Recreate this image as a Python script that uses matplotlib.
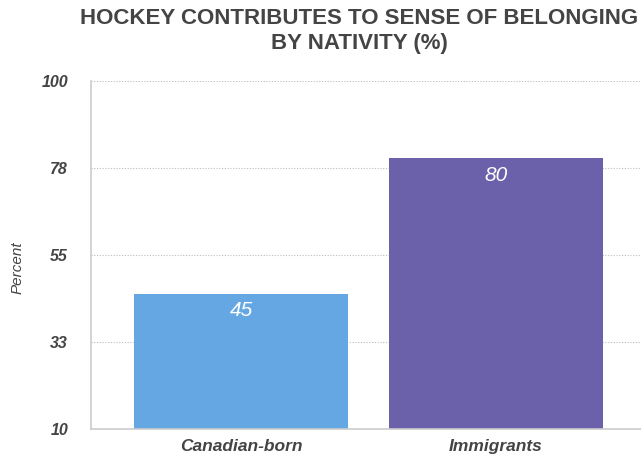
import matplotlib.pyplot as plt

# chart data
categories = ['Canadian-born', 'Immigrants']
values = [45, 80]
bar_colors = ['#64a7e3', '#6b60aa']
tick_values = [10, 32.5, 55, 77.5, 100]
tick_labels = ['10', '33', '55', '78', '100']

plt.rcParams['font.family'] = ['Liberation Sans', 'DejaVu Sans']

fig = plt.figure(figsize=(6.41, 4.58), dpi=100)
ax = fig.add_axes([91 / 641, 29 / 458, 550 / 641, 348 / 458])

x = list(range(len(categories)))
ax.bar(x, values, width=0.84, bottom=0, color=bar_colors, zorder=2)

for xi, v in zip(x, values):
    ax.text(xi, v - 2.0, str(v), ha='center', va='top', color='white',
            fontsize=15, fontstyle='italic', zorder=3)

ax.set_ylim(10, 100)
ax.set_xlim(-0.59, 1.57)
ax.set_yticks(tick_values)
ax.set_yticklabels(tick_labels, fontsize=11.5, fontstyle='italic',
                   fontweight='bold', color='#444444')
ax.set_xticks(x)
ax.set_xticklabels(categories, fontsize=12.5, fontstyle='italic',
                   fontweight='bold', color='#444444')
ax.tick_params(axis='both', length=0)
ax.tick_params(axis='y', pad=16.5)
ax.tick_params(axis='x', pad=7)

ax.grid(axis='y', linestyle=(0, (1, 1.5)), color='#bbbbbb', linewidth=0.8, zorder=0)
for s in ['top', 'right']:
    ax.spines[s].set_visible(False)
ax.spines['left'].set_color('#cccccc')
ax.spines['bottom'].set_color('#cccccc')
ax.spines['left'].set_linewidth(1.2)
ax.spines['bottom'].set_linewidth(1.2)

fig.text(18 / 641, 1 - 268 / 458, 'Percent', rotation=90, ha='center', va='center',
         fontsize=11, fontstyle='italic', color='#444444')

fig.text(359 / 641, 1 - 8 / 458, 'HOCKEY CONTRIBUTES TO SENSE OF BELONGING\nBY NATIVITY (%)',
         ha='center', va='top', fontsize=16, fontweight='bold', color='#444444',
         linespacing=1.25)

fig.savefig('out.png', dpi=100)
